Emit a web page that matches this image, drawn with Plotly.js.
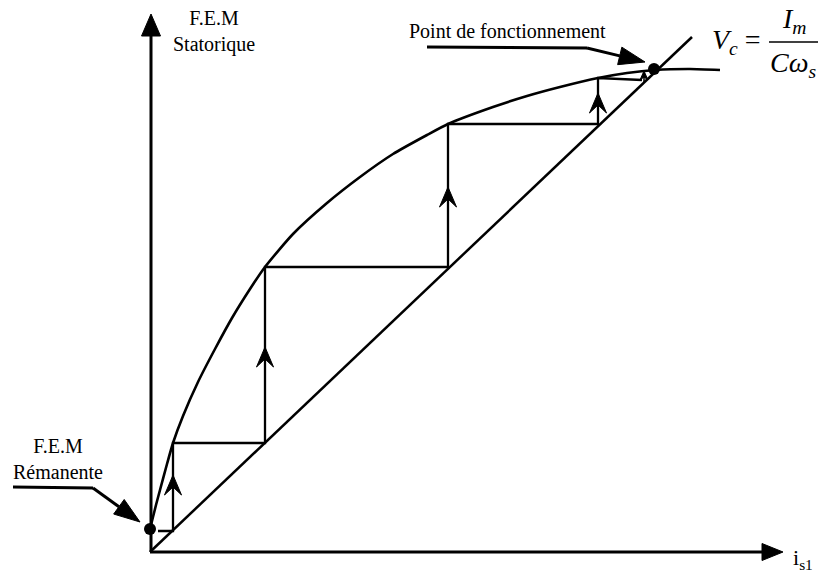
<!DOCTYPE html>
<html>
<head>
<meta charset="utf-8">
<script src="https://cdn.plot.ly/plotly-3.0.1.min.js"></script>
<style>html,body{margin:0;padding:0;background:#fff;}#chart{width:819px;height:573px;}</style>
</head>
<body>
<div id="chart"></div>
<script>
// ---- Data (diagram units: origin at the axes' corner) ----
const curveX = [0, 3, 6, 10, 17, 23, 33, 48, 65, 82, 100, 115, 143, 177, 210, 243, 277, 298, 343, 377, 410, 448, 477, 505, 540, 570];
const curveY = [23, 35, 47, 62, 88, 109, 136, 170, 203, 234, 263, 285, 318, 349, 375, 398, 417, 428, 445, 456, 465, 474, 479, 482, 483, 482];
const loadLineX = [0, 542];
const loadLineY = [0, 515];
const stairX = [8, 23, 23, 115, 115, 298, 298, 448, 448, 492];
const stairY = [21, 21, 109, 109, 285, 285, 428, 428, 474, 472];
const upArrowX = [23, 115, 298, 448];
const upArrowTipY = [77, 205, 365, 459];
const remanentPoint = [0, 23];
const operatingPoint = [504, 483];
const yAxisTop = 538;
const xAxisRight = 633;
const pointerOpX = [277, 437, 495];
const pointerOpY = [505, 504, 490];
const pointerRemX = [-137, -57, -10];
const pointerRemY = [65, 64, 30];
const labels = {
  yAxis: "F.E.M<br>Statorique",
  remanent: "F.E.M<br>Rémanente",
  operating: "Point de fonctionnement",
  xAxis: "i<sub>s1</sub>"
};

const FONT = "Liberation Serif";
const traces = [];
function line(x, y, w, extra) {
  traces.push(Object.assign({x: x, y: y, mode: "lines", line: {color: "#000", width: w}, hoverinfo: "skip"}, extra || {}));
}
function fillPoly(x, y) {
  traces.push({x: x.concat([x[0]]), y: y.concat([y[0]]), mode: "lines", fill: "toself", fillcolor: "#000", line: {color: "#000", width: 1}, hoverinfo: "skip"});
}
function arrowHead(fx, fy, tx, ty, len, hw) {
  const dx = tx - fx, dy = ty - fy, L = Math.hypot(dx, dy);
  const ux = dx / L, uy = dy / L;
  const bx = tx - ux * len, by = ty - uy * len;
  const px = -uy, py = ux;
  fillPoly([tx, bx + px * hw, bx - px * hw], [ty, by + py * hw, by - py * hw]);
  return [bx, by];
}
function chevron(x, yt, hw, len, notch) {
  fillPoly([x, x - hw, x, x + hw], [yt, yt - len, yt - len + notch, yt - len]);
}

// axes
line([1, 1], [0, yAxisTop - 18], 3);
arrowHead(1, 0, 1, yAxisTop, 22, 9.5);
line([0, xAxisRight - 18], [0, 0], 3);
arrowHead(0, 0, xAxisRight, 0, 21, 8.5);

// saturation curve & load line
line(curveX, curveY, 2.6, {line: {color: "#000", width: 2.6, shape: "spline", smoothing: 0.6}});
line(loadLineX, loadLineY, 2.5);

// staircase
line(stairX, stairY, 2.3);
upArrowX.forEach((x, i) => chevron(x, upArrowTipY[i], 8.5, 20, 8));
line([494, 494], [470, 479], 1.5);
chevron(494, 481, 4, 9, 3);

// pointers
line(pointerOpX.slice(0, 2), pointerOpY.slice(0, 2), 3);
let b = arrowHead(pointerOpX[1], pointerOpY[1], pointerOpX[2], pointerOpY[2], 26, 9);
line([pointerOpX[1], b[0]], [pointerOpY[1], b[1]], 3);
line(pointerRemX.slice(0, 2), pointerRemY.slice(0, 2), 3);
b = arrowHead(pointerRemX[1], pointerRemY[1], pointerRemX[2], pointerRemY[2], 26, 9);
line([pointerRemX[1], b[0]], [pointerRemY[1], b[1]], 3);

// points
traces.push({x: [remanentPoint[0], operatingPoint[0]], y: [remanentPoint[1], operatingPoint[1]], mode: "markers",
  marker: {color: "#000", size: 12}, hoverinfo: "skip"});

const ann = (x, y, text, size, extra) => Object.assign({x: x, y: y, xref: "x", yref: "y", text: text, showarrow: false,
  font: {family: FONT, size: size, color: "#000"}}, extra || {});

const layout = {
  width: 819, height: 573,
  margin: {l: 0, r: 0, t: 0, b: 0},
  paper_bgcolor: "#fff", plot_bgcolor: "#fff",
  showlegend: false,
  font: {family: FONT, color: "#000"},
  xaxis: {range: [-150, 669], visible: false, fixedrange: true},
  yaxis: {range: [-21, 552], visible: false, fixedrange: true},
  shapes: [{type: "line", xref: "x", yref: "y", x0: 619, x1: 668, y0: 510, y1: 510, line: {color: "#000", width: 1.5}}],
  annotations: [
    ann(64, 521, labels.yAxis, 20, {align: "center"}),
    ann(-92, 93, labels.remanent, 20, {align: "center"}),
    ann(357, 521, labels.operating, 20),
    ann(641, -7, labels.xAxis, 22, {xanchor: "left"}),
    ann(560, 511, "<i>V</i><sub><i>c</i></sub> =", 28, {xanchor: "left"}),
    ann(644, 532, "<i>I</i><sub><i>m</i></sub>", 28),
    ann(643, 488, "<i>Cω</i><sub><i>s</i></sub>", 28)
  ]
};
Plotly.newPlot("chart", traces, layout, {displayModeBar: false, staticPlot: true});
</script>
</body>
</html>
